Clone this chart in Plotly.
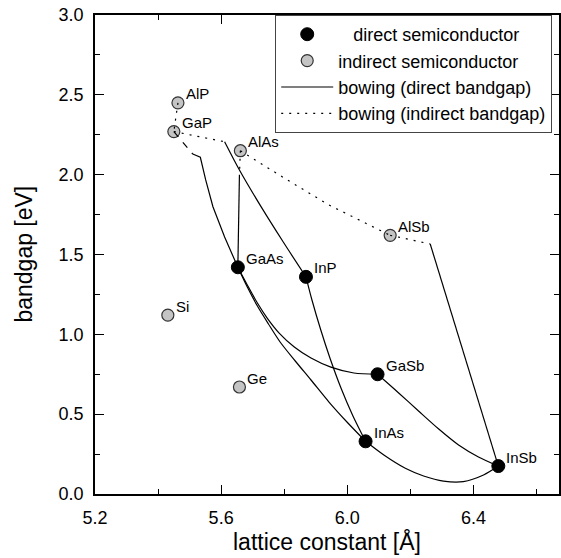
import plotly.graph_objects as go

# ---- binary compounds: lattice constant [Å] and bandgap [eV] ----
DIRECT_NAMES = ["GaAs", "InP", "GaSb", "InAs", "InSb"]
DIRECT_A = [5.653, 5.869, 6.096, 6.058, 6.479]
DIRECT_EG = [1.42, 1.36, 0.75, 0.33, 0.175]

INDIRECT_NAMES = ["AlP", "GaP", "AlAs", "AlSb", "Si", "Ge"]
INDIRECT_A = [5.463, 5.450, 5.661, 6.136, 5.431, 5.658]
INDIRECT_EG = [2.45, 2.27, 2.15, 1.62, 1.12, 0.67]

# ---- ternary bowing curves, direct-gap branches ----
GAASP_D_A = [5.510, 5.534, 5.551, 5.574, 5.611, 5.653]
GAASP_D_EG = [2.129, 2.109, 1.967, 1.799, 1.610, 1.42]
GAINP_D_A = [5.611, 5.658, 5.727, 5.797, 5.869]
GAINP_D_EG = [2.206, 2.029, 1.798, 1.578, 1.36]
ALGAAS_D_A = [5.658, 5.653]
ALGAAS_D_EG = [2.00, 1.42]
GAINAS_A = [5.653, 5.683, 5.715, 5.750, 5.787, 5.835, 5.885, 5.942, 5.999, 6.058]
GAINAS_EG = [1.42, 1.296, 1.177, 1.065, 0.952, 0.833, 0.714, 0.576, 0.451, 0.33]
GAASSB_A = [5.653, 5.683, 5.715, 5.746, 5.784, 5.832, 5.885, 5.948, 6.021, 6.096]
GAASSB_EG = [1.42, 1.309, 1.196, 1.102, 1.008, 0.921, 0.852, 0.795, 0.758, 0.75]
INPAS_A = [5.869, 5.888, 5.916, 5.945, 5.980, 6.018, 6.058]
INPAS_EG = [1.36, 1.215, 1.027, 0.852, 0.664, 0.489, 0.33]
INASSB_A = [6.058, 6.116, 6.184, 6.242, 6.305, 6.368, 6.432, 6.479]
INASSB_EG = [0.33, 0.244, 0.161, 0.113, 0.081, 0.078, 0.119, 0.175]
GAINSB_A = [6.096, 6.163, 6.226, 6.290, 6.353, 6.416, 6.479]
GAINSB_EG = [0.75, 0.633, 0.520, 0.407, 0.307, 0.232, 0.175]
ALINSB_D_A = [6.263, 6.479]
ALINSB_D_EG = [1.566, 0.175]

# ---- ternary bowing curves, indirect-gap branches ----
ALGAP_A = [5.463, 5.450]
ALGAP_EG = [2.45, 2.27]
GAINP_I_A = [5.450, 5.611]
GAINP_I_EG = [2.27, 2.206]
GAASP_I_A = [5.450, 5.510]
GAASP_I_EG = [2.27, 2.129]
ALGAAS_I_A = [5.661, 5.658]
ALGAAS_I_EG = [2.15, 2.00]
ALASSB_A = [5.661, 5.800, 5.942, 6.136]
ALASSB_EG = [2.15, 1.979, 1.810, 1.62]
ALINSB_I_A = [6.136, 6.263]
ALINSB_I_EG = [1.62, 1.566]

FONT = "Liberation Sans, Arial, sans-serif"
NBSP = "\u00a0"
DOT = "2px,6px"

fig = go.Figure()

# compound markers (drawn first so the curves run on top of them)
fig.add_trace(go.Scatter(
    x=DIRECT_A, y=DIRECT_EG, mode="markers",
    name=NBSP * 3 + "direct semiconductor",
    marker=dict(size=13, color="black", line=dict(color="black", width=1)),
))
fig.add_trace(go.Scatter(
    x=INDIRECT_A, y=INDIRECT_EG, mode="markers",
    name="indirect semiconductor",
    marker=dict(size=12, color="#c4c4c4", line=dict(color="#333333", width=1.2)),
))

direct_curves = [
    (GAINAS_A, GAINAS_EG, "spline"),
    (GAASP_D_A, GAASP_D_EG, "linear"),
    (GAINP_D_A, GAINP_D_EG, "spline"),
    (ALGAAS_D_A, ALGAAS_D_EG, "linear"),
    (GAASSB_A, GAASSB_EG, "spline"),
    (INPAS_A, INPAS_EG, "spline"),
    (INASSB_A, INASSB_EG, "spline"),
    (GAINSB_A, GAINSB_EG, "spline"),
    (ALINSB_D_A, ALINSB_D_EG, "linear"),
]
for i, (xa, ya, shape) in enumerate(direct_curves):
    fig.add_trace(go.Scatter(
        x=xa, y=ya, mode="lines", name="bowing (direct bandgap)",
        showlegend=(i == 0), legendgroup="direct",
        line=dict(color="black", width=1.2, shape=shape, smoothing=0.8),
    ))

indirect_curves = [
    (ALASSB_A, ALASSB_EG, DOT),
    (ALGAP_A, ALGAP_EG, DOT),
    (GAINP_I_A, GAINP_I_EG, DOT),
    (GAASP_I_A, GAASP_I_EG, "7px,7px"),
    (ALGAAS_I_A, ALGAAS_I_EG, DOT),
    (ALINSB_I_A, ALINSB_I_EG, DOT),
]
for i, (xa, ya, dash) in enumerate(indirect_curves):
    fig.add_trace(go.Scatter(
        x=xa, y=ya, mode="lines", name="bowing (indirect bandgap)",
        showlegend=(i == 0), legendgroup="indirect",
        line=dict(color="black", width=1.2, dash=dash),
    ))

# compound labels
annotations = []
for names, xs, ys in ((DIRECT_NAMES, DIRECT_A, DIRECT_EG),
                      (INDIRECT_NAMES, INDIRECT_A, INDIRECT_EG)):
    for n, xv, yv in zip(names, xs, ys):
        annotations.append(dict(
            x=xv, y=yv, xref="x", yref="y", text=n, showarrow=False,
            xanchor="left", yanchor="middle", xshift=6, yshift=9,
            font=dict(family=FONT, size=15, color="black"),
        ))

# axis titles
annotations.append(dict(
    x=0.5, y=-0.100, xref="paper", yref="paper", text="lattice constant [Å]",
    showarrow=False, xanchor="center", yanchor="middle",
    font=dict(family=FONT, size=23, color="black"),
))
annotations.append(dict(
    x=-0.155, y=0.5, xref="paper", yref="paper", text="bandgap [eV]",
    showarrow=False, xanchor="center", yanchor="middle", textangle=-90,
    font=dict(family=FONT, size=23, color="black"),
))

axis_common = dict(
    showline=True, linecolor="black", linewidth=1.7, mirror="ticks",
    ticks="inside", ticklen=9, tickwidth=1.4, tickcolor="black",
    showgrid=False, zeroline=False, tickformat=".1f",
    tickfont=dict(family=FONT, size=18, color="black"),
)

fig.update_layout(
    width=561, height=558,
    margin=dict(l=95, r=0, t=15, b=64),
    paper_bgcolor="white", plot_bgcolor="white",
    font=dict(family=FONT, color="black"),
    xaxis=dict(range=[5.2, 6.6714], tick0=5.2, dtick=0.4, ticklabelstandoff=7,
               minor=dict(dtick=0.2, ticklen=5, tickwidth=1.4, ticks="inside",
                          tickcolor="black", showgrid=False),
               **axis_common),
    yaxis=dict(range=[0, 3], tick0=0, dtick=0.5, ticklabelstandoff=6,
               minor=dict(dtick=0.25, ticklen=5, tickwidth=1.4, ticks="inside",
                          tickcolor="black", showgrid=False),
               **axis_common),
    legend=dict(
        x=0.3884, y=1, xanchor="left", yanchor="top",
        bordercolor="#444444", borderwidth=1, bgcolor="white",
        font=dict(family=FONT, size=18, color="black"),
        itemwidth=52, tracegroupgap=0,
    ),
    annotations=annotations,
)

fig.write_html("out.html")
